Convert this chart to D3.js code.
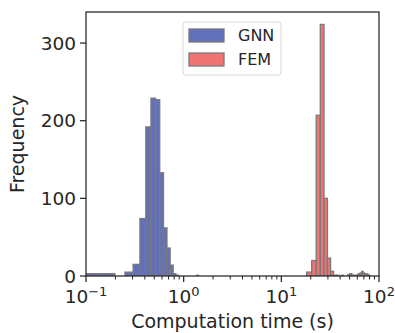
<!DOCTYPE html>
<html>
<head>
<meta charset="utf-8">
<script src="https://cdn.jsdelivr.net/npm/d3@7"></script>
<style>
  body { margin: 0; background: #fff; }
  text { font-family: "DejaVu Sans", sans-serif; fill: #262626; }
</style>
</head>
<body>
<div id="chart"></div>
<script>
// histogram bins (linear bins, drawn on a log x axis)
const gnnBinStart = 0.0916;
const gnnBinWidth = 0.053;
const gnnCounts = [3, 3, 0, 5, 15, 74, 192, 229, 227, 133, 62, 36, 14, 3, 1, 0, 0, 0, 0, 0, 0, 0, 0, 0, 1];

const femBinStart = 18.15;
const femBinWidth = 2.3;
const femCounts = [5, 20, 207, 324, 100, 23, 6, 1, 1, 0, 1, 0, 0, 2, 3, 1, 1, 0, 2, 3, 4, 6, 4, 3, 3, 2, 1];

const seriesNames = ["GNN", "FEM"];
const seriesColors = ["#6170b9", "#f07474"];
const xTicks = [0.1, 1, 10, 100];
const xTickExps = ["\u22121", "0", "1", "2"];
const yTicks = [0, 100, 200, 300];

const width = 395, height = 333;
const margin = { left: 86, right: 16, top: 12, bottom: 57 };

const svg = d3.select("#chart").append("svg")
    .attr("width", width)
    .attr("height", height);

const x = d3.scaleLog()
    .domain([0.1, 100])
    .range([margin.left, width - margin.right]);

const y = d3.scaleLinear()
    .domain([0, 340])
    .range([height - margin.bottom, margin.top]);

svg.append("clipPath").attr("id", "plotclip")
    .append("rect")
    .attr("x", margin.left).attr("y", margin.top)
    .attr("width", x.range()[1] - margin.left)
    .attr("height", y(0) - margin.top);

function makeBins(start, w, counts) {
    return counts.map((c, i) => ({ x0: start + i * w, x1: start + (i + 1) * w, count: c }));
}

const series = [
    makeBins(gnnBinStart, gnnBinWidth, gnnCounts),
    makeBins(femBinStart, femBinWidth, femCounts)
];

const bars = svg.append("g").attr("clip-path", "url(#plotclip)");
series.forEach((bins, si) => {
    bars.append("g")
        .selectAll("rect")
        .data(bins)
        .enter()
        .append("rect")
        .attr("x", d => x(d.x0))
        .attr("width", d => x(d.x1) - x(d.x0))
        .attr("y", d => y(d.count))
        .attr("height", d => y(0) - y(d.count))
        .attr("fill", seriesColors[si])
        .attr("stroke", "#7a7a7a")
        .attr("stroke-width", 1.3);
});

// x axis with minor ticks
const minorTicks = [];
[0.1, 1, 10].forEach(dec => {
    for (let k = 2; k <= 9; k++) minorTicks.push(dec * k);
});

const xAxisG = svg.append("g").attr("transform", `translate(0,${y(0)})`);
xAxisG.selectAll(".minor")
    .data(minorTicks)
    .enter()
    .append("line")
    .attr("x1", d => x(d)).attr("x2", d => x(d))
    .attr("y1", 0).attr("y2", 3.5)
    .attr("stroke", "#262626").attr("stroke-width", 1);

xAxisG.selectAll(".major")
    .data(xTicks)
    .enter()
    .append("line")
    .attr("x1", d => x(d)).attr("x2", d => x(d))
    .attr("y1", 0).attr("y2", 6)
    .attr("stroke", "#262626").attr("stroke-width", 1.25);

const xLabels = xAxisG.selectAll(".xl")
    .data(xTicks)
    .enter()
    .append("text")
    .attr("x", d => x(d))
    .attr("y", 27)
    .attr("text-anchor", "middle")
    .attr("font-size", "18.5px");
xLabels.append("tspan").text("10");
xLabels.append("tspan")
    .attr("dy", -7)
    .attr("font-size", "13px")
    .text((d, i) => xTickExps[i]);

// y axis
const yAxisG = svg.append("g").attr("transform", `translate(${margin.left},0)`);
yAxisG.selectAll("line")
    .data(yTicks)
    .enter()
    .append("line")
    .attr("x1", -6).attr("x2", 0)
    .attr("y1", d => y(d)).attr("y2", d => y(d))
    .attr("stroke", "#262626").attr("stroke-width", 1.25);

yAxisG.selectAll("text")
    .data(yTicks)
    .enter()
    .append("text")
    .attr("x", -10)
    .attr("y", d => y(d))
    .attr("dy", "0.36em")
    .attr("text-anchor", "end")
    .attr("font-size", "18.5px")
    .text(d => d);

// frame
svg.append("rect")
    .attr("x", margin.left).attr("y", margin.top)
    .attr("width", x.range()[1] - margin.left)
    .attr("height", y(0) - margin.top)
    .attr("fill", "none")
    .attr("stroke", "#262626")
    .attr("stroke-width", 1.25);

// axis titles
svg.append("text")
    .attr("x", (margin.left + x.range()[1]) / 2)
    .attr("y", 328)
    .attr("text-anchor", "middle")
    .attr("font-size", "19px")
    .text("Computation time (s)");

svg.append("text")
    .attr("transform", `translate(24,${(margin.top + y(0)) / 2}) rotate(-90)`)
    .attr("text-anchor", "middle")
    .attr("font-size", "19px")
    .text("Frequency");

// legend
const legend = svg.append("g").attr("transform", "translate(183,22)");
legend.append("rect")
    .attr("width", 98).attr("height", 53)
    .attr("rx", 3)
    .attr("fill", "#fff").attr("fill-opacity", 0.8)
    .attr("stroke", "#d9d9d9").attr("stroke-width", 1);

seriesNames.forEach((name, i) => {
    const row = legend.append("g").attr("transform", `translate(6,${7 + i * 24})`);
    row.append("rect")
        .attr("width", 35).attr("height", 13)
        .attr("fill", seriesColors[i])
        .attr("stroke", "#7a7a7a").attr("stroke-width", 1.3);
    row.append("text")
        .attr("x", 49).attr("y", 6.5)
        .attr("dy", "0.36em")
        .attr("font-size", "16px")
        .text(name);
});
</script>
</body>
</html>
